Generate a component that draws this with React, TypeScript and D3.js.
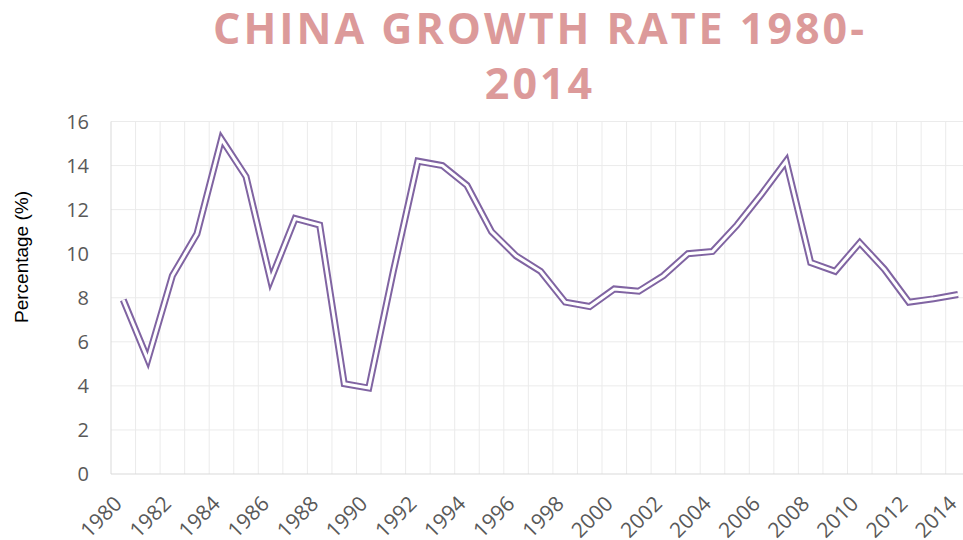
import React, { useEffect, useRef } from "react";
import * as d3 from "d3";

const years: string[] = d3.range(1980, 2015).map(String);
const growth: number[] = [
  7.9, 5.2, 9.0, 10.9, 15.2, 13.5, 8.8, 11.6, 11.3, 4.1,
  3.9, 9.2, 14.2, 14.0, 13.1, 11.0, 9.9, 9.2, 7.8, 7.6,
  8.4, 8.3, 9.0, 10.0, 10.1, 11.3, 12.7, 14.2, 9.6, 9.2,
  10.5, 9.3, 7.8, 7.95, 8.15,
];
const yTicks: number[] = [0, 2, 4, 6, 8, 10, 12, 14, 16];
const titleLines: string[] = ["CHINA GROWTH RATE 1980-", "2014"];

const W = 963;
const H = 540;
const MARGIN = { top: 121.5, left: 111, bottom: 66 };
const BAND = 24.55;

const App = () => {
  const axesRef = useRef<SVGGElement>(null);

  const xScale = d3
    .scaleBand()
    .domain(years)
    .range([MARGIN.left, MARGIN.left + BAND * years.length]);
  const yScale = d3.scaleLinear().domain([0, 16]).range([H - MARGIN.bottom, MARGIN.top]);

  const line = d3
    .line<number>()
    .x((_, i) => (xScale(years[i]) as number) + xScale.bandwidth() / 2)
    .y((d) => yScale(d));

  useEffect(() => {
    const g = d3.select(axesRef.current);
    g.selectAll("*").remove();

    // y labels
    g.append("g")
      .selectAll("text")
      .data(yTicks)
      .join("text")
      .attr("x", 89)
      .attr("y", (d) => yScale(d))
      .attr("dy", "0.36em")
      .attr("text-anchor", "end")
      .attr("fill", "#595959")
      .style("font-size", "20px")
      .style("font-family", "'Open Sans', sans-serif")
      .text((d) => d);

    // x labels every second year
    g.append("g")
      .selectAll("text")
      .data(years.filter((_, i) => i % 2 === 0))
      .join("text")
      .attr("transform", (d) => {
        const x = (xScale(d) as number) + xScale.bandwidth() / 2;
        return `translate(${x},${H - MARGIN.bottom + 31}) rotate(-45)`;
      })
      .attr("text-anchor", "end")
      .attr("fill", "#595959")
      .style("font-size", "21px")
      .style("font-family", "'Open Sans', sans-serif")
      .text((d) => d);
  }, []);

  const plotRight = MARGIN.left + BAND * years.length;

  return (
    <svg width={W} height={H} style={{ display: "block", position: "absolute", left: 0, top: 0 }}>
      <rect width={W} height={H} fill="#ffffff" />
      {/* title */}
      {titleLines.map((t, i) => (
        <text
          key={t}
          x={540}
          y={44 + i * 55}
          textAnchor="middle"
          fill="#dc9a9a"
          style={{ fontSize: "43px", fontWeight: 700, letterSpacing: "3px", fontFamily: "'Open Sans', sans-serif" }}
        >
          {t}
        </text>
      ))}
      {/* grid */}
      <g stroke="#ebebeb" strokeWidth={1}>
        {yTicks.slice(1).map((t) => (
          <line key={t} x1={MARGIN.left} x2={plotRight} y1={yScale(t)} y2={yScale(t)} />
        ))}
        {years.map((y) => (
          <line
            key={y}
            x1={(xScale(y) as number) + BAND}
            x2={(xScale(y) as number) + BAND}
            y1={MARGIN.top}
            y2={yScale(0)}
          />
        ))}
      </g>
      <line x1={MARGIN.left} x2={MARGIN.left} y1={MARGIN.top} y2={yScale(0)} stroke="#d9d9d9" />
      <line x1={MARGIN.left} x2={plotRight} y1={yScale(0)} y2={yScale(0)} stroke="#d9d9d9" />
      {/* double line */}
      <path d={line(growth) ?? ""} fill="none" stroke="#8064a2" strokeWidth={7} strokeLinejoin="miter" strokeMiterlimit={10} />
      <path d={line(growth) ?? ""} fill="none" stroke="#ffffff" strokeWidth={3} strokeLinejoin="miter" strokeMiterlimit={10} />
      <g ref={axesRef} />
      <text
        transform={`translate(28,257) rotate(-90)`}
        textAnchor="middle"
        fill="#000000"
        style={{ fontSize: "19px", fontFamily: "'Liberation Sans', Arial, sans-serif" }}
      >
        Percentage (%)
      </text>
    </svg>
  );
};

export default App;
